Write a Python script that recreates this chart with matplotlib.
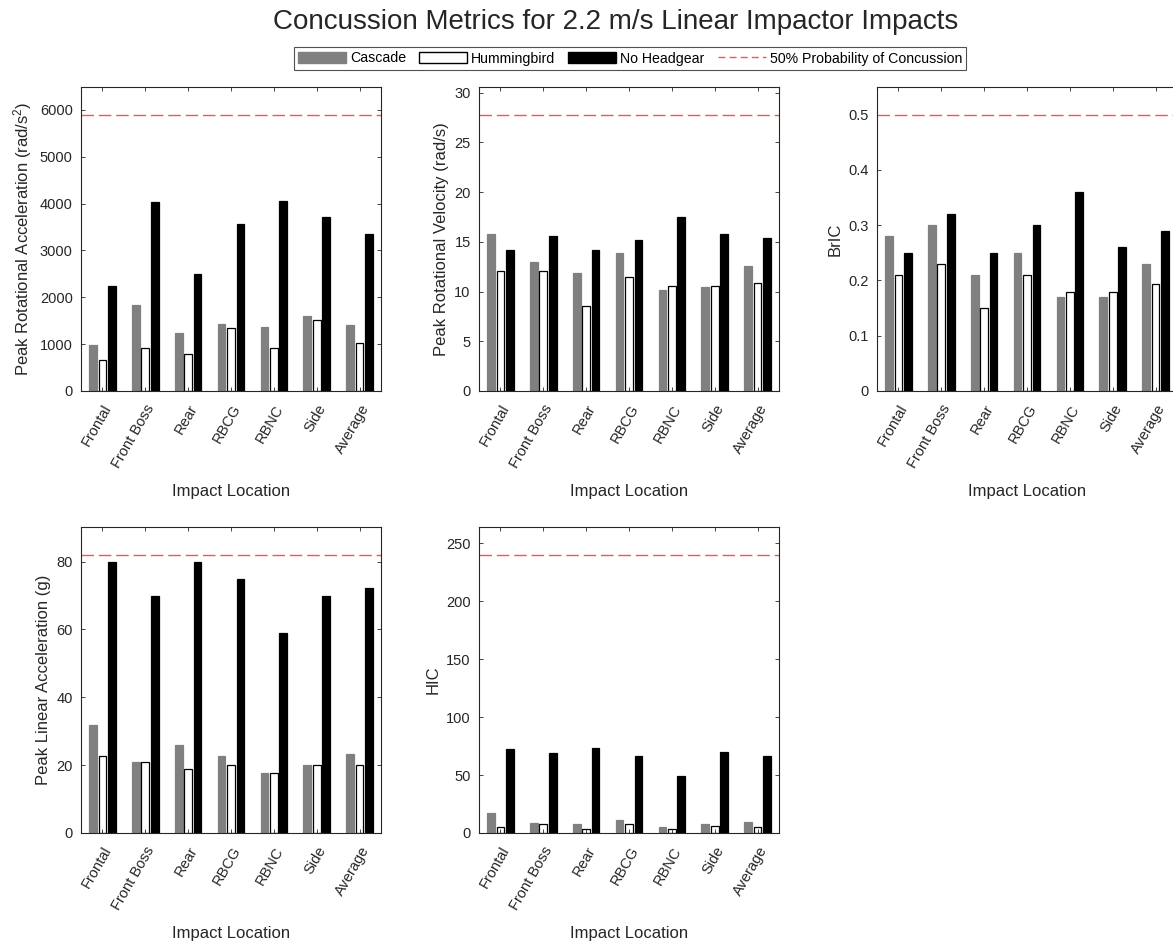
import matplotlib
matplotlib.use("Agg")
import matplotlib.pyplot as plt
import numpy as np
from matplotlib.patches import Patch
from matplotlib.lines import Line2D

plt.rcParams['font.family'] = ['Liberation Sans', 'DejaVu Sans']
plt.rcParams['mathtext.fontset'] = 'custom'
plt.rcParams['mathtext.rm'] = 'Liberation Sans'
plt.rcParams['mathtext.it'] = 'Liberation Sans:italic'

locations = ["Frontal", "Front Boss", "Rear", "RBCG", "RBNC", "Side", "Average"]
series_names = ["Cascade", "Hummingbird", "No Headgear"]
threshold_label = "50% Probability of Concussion"

pra_cascade = [980, 1836, 1229, 1436, 1364, 1593, 1407]
pra_humming = [657, 921, 786, 1336, 921, 1514, 1021]
pra_nohead = [2236, 4036, 2500, 3564, 4064, 3714, 3350]
pra_thresh = 5900

prv_cascade = [15.83, 12.93, 11.87, 13.87, 10.17, 10.47, 12.53]
prv_humming = [12.03, 12.03, 8.53, 11.43, 10.57, 10.57, 10.83]
prv_nohead = [14.17, 15.57, 14.17, 15.23, 17.53, 15.83, 15.4]
prv_thresh = 27.8

bric_cascade = [0.28, 0.30, 0.21, 0.25, 0.17, 0.17, 0.23]
bric_humming = [0.21, 0.23, 0.15, 0.21, 0.18, 0.18, 0.193]
bric_nohead = [0.25, 0.32, 0.25, 0.30, 0.36, 0.26, 0.29]
bric_thresh = 0.5

pla_cascade = [31.8, 20.8, 25.9, 22.8, 17.8, 19.9, 23.2]
pla_humming = [22.8, 21.0, 18.9, 20.0, 17.8, 20.0, 20.0]
pla_nohead = [80, 70, 80, 75, 59, 70, 72.3]
pla_thresh = 82

hic_cascade = [17.6, 8.4, 7.5, 11.3, 5.5, 7.5, 9.5]
hic_humming = [5.2, 7.5, 3.2, 7.5, 3.2, 6.4, 5.2]
hic_nohead = [72.8, 68.8, 73.7, 66.8, 48.8, 69.9, 66.8]
hic_thresh = 240

panels = [
    (r"Peak Rotational Acceleration (rad/s$^2$)", pra_cascade, pra_humming, pra_nohead, pra_thresh, np.arange(0, 6001, 1000)),
    ("Peak Rotational Velocity (rad/s)", prv_cascade, prv_humming, prv_nohead, prv_thresh, np.arange(0, 31, 5)),
    ("BrIC", bric_cascade, bric_humming, bric_nohead, bric_thresh, np.round(np.arange(0, 0.51, 0.1), 1)),
    ("Peak Linear Acceleration (g)", pla_cascade, pla_humming, pla_nohead, pla_thresh, np.arange(0, 81, 20)),
    ("HIC", hic_cascade, hic_humming, hic_nohead, hic_thresh, np.arange(0, 251, 50)),
]

W, H = 1173, 944
fig = plt.figure(figsize=(W / 100, H / 100), dpi=100)

positions = [(81, 87, 391), (479, 87, 391), (877, 87, 391), (81, 527, 833), (479, 527, 833)]
axw = 300

txtc = '#262626'
fills = ['#808080', 'white', 'black']
edges = ['#808080', 'black', 'black']
offs = [-0.22, 0.0, 0.22]
bw = 0.18
red = '#ff5050'

for (ylabel, c, h, n, th, yt), (lx, ty, by) in zip(panels, positions):
    ax = fig.add_axes([lx / W, 1 - by / H, axw / W, (by - ty) / H])
    x = np.arange(1, len(locations) + 1)
    for vals, fc, ec, o in zip([c, h, n], fills, edges, offs):
        ax.bar(x + o, vals, width=bw, color=fc, edgecolor=ec, linewidth=0.9)
    ax.axhline(th, color=red, lw=1.0, dashes=(9, 3.5))
    ax.set_xlim(0.5, len(locations) + 0.5)
    ax.set_ylim(0, th * 1.1)
    ax.set_yticks(yt)
    ax.set_yticklabels([f"{v:g}" for v in yt])
    ax.set_xticks(x)
    ax.set_xticklabels(locations, rotation=60, ha='right', va='top', rotation_mode='anchor')
    ax.tick_params(direction='in', top=True, right=True, length=3, width=0.6,
                   labelsize=10.5, labelcolor=txtc, color=txtc, pad=6)
    ax.tick_params(axis='x', pad=8)
    for s in ax.spines.values():
        s.set_color(txtc)
        s.set_linewidth(0.8)
    ax.set_ylabel(ylabel, fontsize=12, color=txtc)
    ax.set_xlabel("Impact Location", fontsize=12, color=txtc, labelpad=10)

fig.text(616 / W, 1 - 22 / H, "Concussion Metrics for 2.2 m/s Linear Impactor Impacts",
         ha='center', va='center', fontsize=20, color='#262626')

handles = [
    Patch(facecolor='#808080', edgecolor='#808080'),
    Patch(facecolor='white', edgecolor='black'),
    Patch(facecolor='black', edgecolor='black'),
    Line2D([0], [0], color=red, lw=1.0, dashes=(5, 3)),
]
leg = fig.legend(handles, series_names + [threshold_label], loc='center',
                 bbox_to_anchor=(630 / W, 1 - 58.5 / H), ncol=4, fontsize=10.2,
                 frameon=True, fancybox=False, edgecolor='#262626',
                 handlelength=3.39, handleheight=0.85, handletextpad=0.28,
                 columnspacing=0.92, borderpad=0.3, borderaxespad=0)
leg.get_frame().set_linewidth(0.8)

fig.savefig("out.png", dpi=100)
